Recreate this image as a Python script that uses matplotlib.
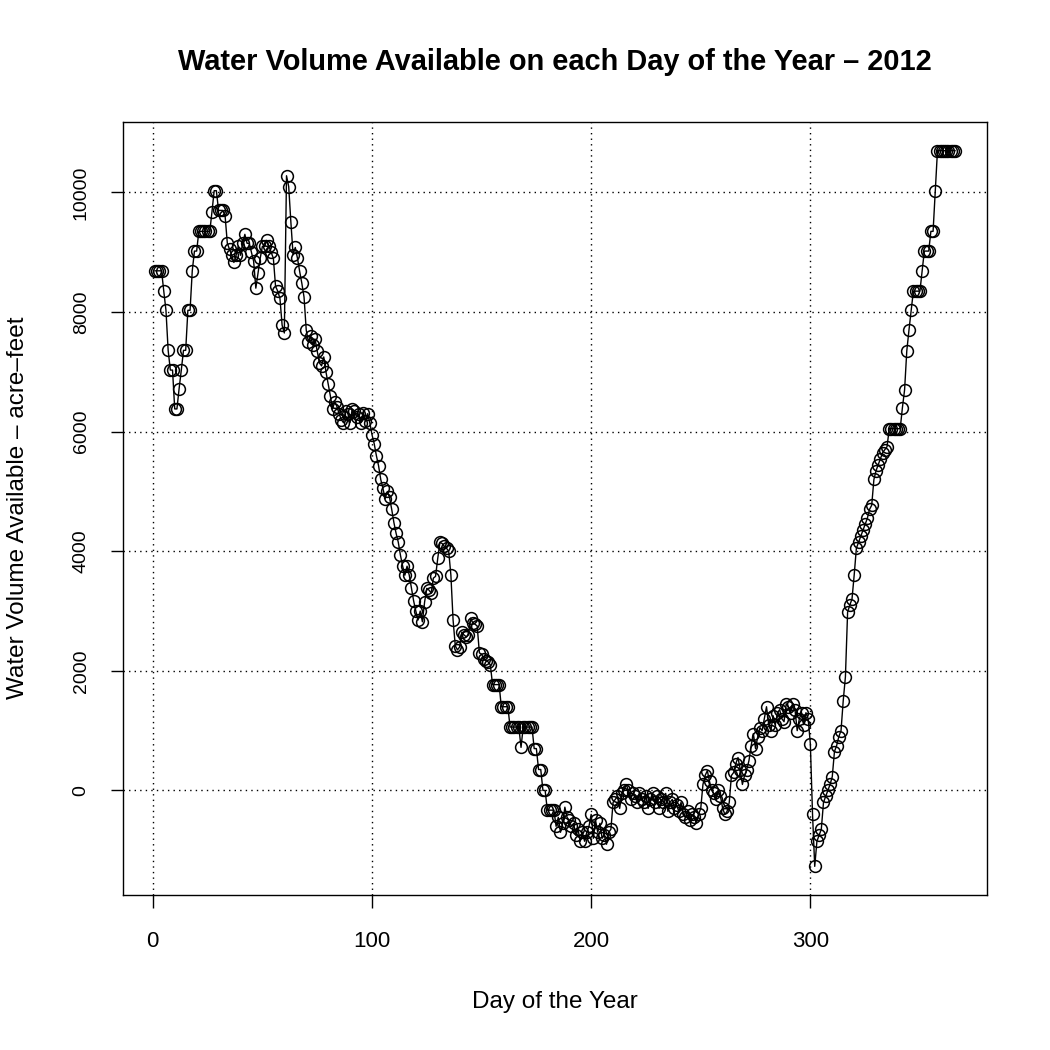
import matplotlib
matplotlib.use("Agg")
import matplotlib.pyplot as plt
import numpy as np

plt.rcParams['font.family'] = ['Liberation Sans', 'DejaVu Sans']

title = "Water Volume Available on each Day of the Year \u2013 2012"
xlabel = "Day of the Year"
ylabel = "Water Volume Available \u2013 acre\u2013feet"

volume = [
    8690, 8690, 8690, 8690, 8350, 8030, 7360, 7030, 7030, 6380,
    6380, 6720, 7030, 7360, 7360, 8030, 8030, 8690, 9020, 9020,
    9350, 9350, 9350, 9350, 9350, 9350, 9680, 10030, 10030, 9700,
    9700, 9700, 9600, 9150, 9050, 8950, 8830, 8950, 9100, 8950,
    9150, 9300, 9150, 9150, 9000, 8850, 8400, 8650, 8900, 9100,
    9100, 9200, 9100, 9000, 8900, 8430, 8350, 8230, 7780, 7650,
    10280, 10100, 9500, 8960, 9080, 8900, 8680, 8480, 8250, 7700,
    7500, 7600, 7450, 7550, 7350, 7150, 7100, 7250, 7000, 6800,
    6600, 6380, 6500, 6420, 6300, 6200, 6150, 6350, 6300, 6150,
    6380, 6350, 6250, 6300, 6150, 6320, 6180, 6300, 6150, 5950,
    5800, 5600, 5430, 5200, 5050, 4880, 5000, 4900, 4700, 4480,
    4300, 4150, 3930, 3750, 3600, 3750, 3600, 3380, 3170, 3000,
    2850, 3000, 2820, 3150, 3380, 3350, 3300, 3550, 3580, 3880,
    4150, 4130, 4080, 4050, 4000, 3600, 2850, 2420, 2350, 2400,
    2650, 2600, 2570, 2600, 2880, 2800, 2780, 2750, 2300, 2280,
    2200, 2170, 2150, 2100, 1770, 1770, 1770, 1770, 1400, 1400,
    1400, 1400, 1060, 1060, 1060, 1060, 1060, 720, 1060, 1060,
    1060, 1060, 1060, 700, 700, 350, 350, 0, 0, -330,
    -330, -330, -330, -600, -450, -700, -550, -280, -450, -500,
    -600, -550, -750, -650, -850, -700, -850, -700, -600, -400,
    -800, -500, -700, -550, -800, -750, -900, -700, -650, -200,
    -150, -100, -300, -50, 0, 100, 0, -150, -50, -100,
    -200, -50, -150, -200, -100, -300, -150, -50, -200, -100,
    -300, -150, -200, -50, -350, -200, -150, -300, -250, -350,
    -200, -400, -450, -350, -500, -400, -450, -550, -400, -300,
    100, 250, 330, 150, 0, -50, -150, 0, -100, -300,
    -400, -350, -200, 250, 300, 450, 550, 350, 100, 250,
    350, 500, 750, 950, 700, 900, 1050, 1000, 1200, 1400,
    1100, 1000, 1250, 1100, 1300, 1350, 1200, 1150, 1450, 1400,
    1300, 1450, 1350, 1000, 1200, 1300, 1100, 1300, 1200, 780,
    -400, -1270, -850, -750, -650, -200, -100, 0, 100, 230,
    650, 750, 900, 1000, 1500, 1900, 2980, 3100, 3200, 3600,
    4050, 4150, 4250, 4350, 4450, 4550, 4700, 4770, 5200, 5350,
    5450, 5550, 5650, 5700, 5750, 6050, 6050, 6050, 6050, 6050,
    6050, 6400, 6700, 7350, 7700, 8030, 8350, 8350, 8350, 8350,
    8690, 9020, 9020, 9020, 9350, 9350, 10030, 10700, 10700, 10700,
    10700, 10700, 10700, 10700, 10700, 10700,
]
days = list(range(1, len(volume) + 1))

xticks = [0, 100, 200, 300]
yticks = [0, 2000, 4000, 6000, 8000, 10000]

W = H = 1050
fig = plt.figure(figsize=(10.5, 10.5), dpi=100)
ax = fig.add_axes([123 / W, 1 - 895 / H, (987 - 123) / W, (895 - 122) / H])

ax.plot(days, volume, color='black', lw=1.0, marker='o', markersize=8.5,
        markerfacecolor='none', markeredgecolor='black', markeredgewidth=1.1)

xr = max(days) - min(days)
yr = max(volume) - min(volume)
ax.set_xlim(min(days) - 0.04 * xr, max(days) + 0.04 * xr)
ax.set_ylim(min(volume) - 0.04 * yr, max(volume) + 0.04 * yr)

ax.set_xticks(xticks)
ax.set_yticks(yticks)
ax.set_xticklabels([str(t) for t in xticks], fontsize=16)
ax.set_yticklabels([str(t) for t in yticks], fontsize=14, rotation=90, va='center')
ax.tick_params(direction='out', length=9, width=1)
ax.tick_params(axis='x', pad=17)
ax.tick_params(axis='y', pad=15)

ax.grid(True, color='black', linestyle=(0, (1, 3)), linewidth=1.0)
for s in ax.spines.values():
    s.set_linewidth(1.0)

fig.text(555 / W, 1 - 62 / H, title, fontsize=20.9, fontweight='bold',
         ha='center', va='center')
fig.text(555 / W, 1 - 1002 / H, xlabel, fontsize=17.5, ha='center', va='center')
fig.text(18 / W, 1 - 508 / H, ylabel, fontsize=17.5, ha='center', va='center',
         rotation=90)

fig.savefig("out.png", dpi=100)
